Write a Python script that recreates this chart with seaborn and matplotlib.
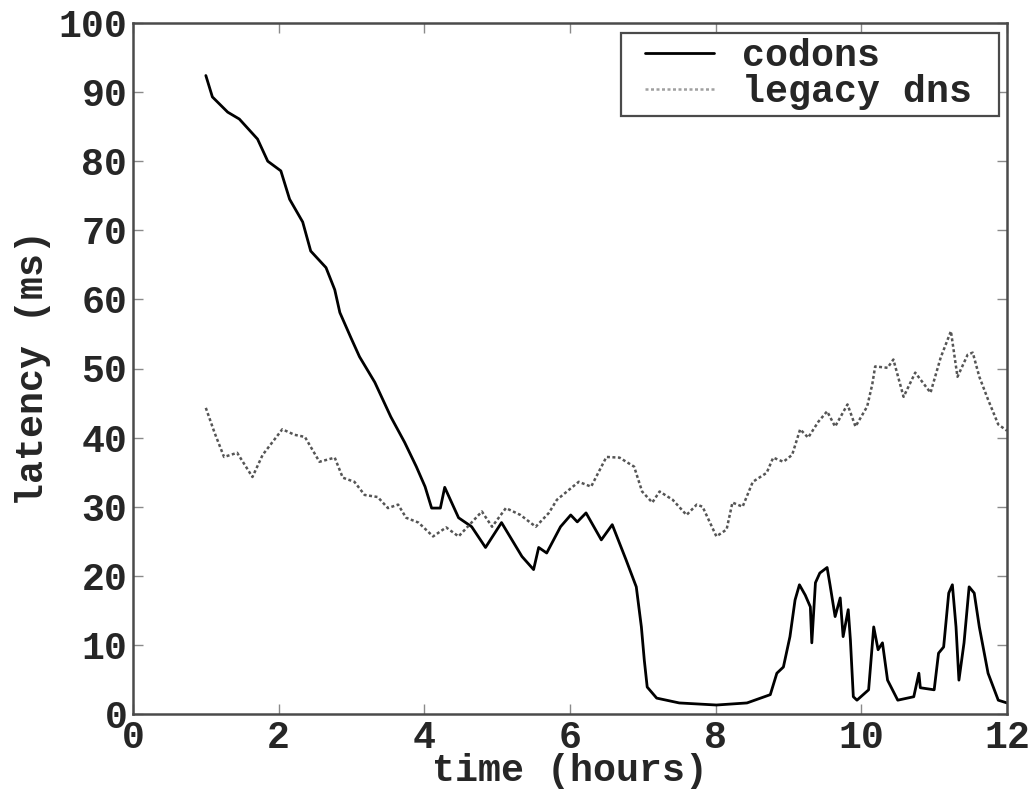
import matplotlib
matplotlib.use("Agg")
import matplotlib.pyplot as plt
from matplotlib.patches import Rectangle
import seaborn as sns
import pandas as pd

# --- data ---
codons_t = [1.0, 1.09, 1.3, 1.46, 1.71, 1.85, 2.03, 2.15, 2.33, 2.44,
            2.65, 2.77, 2.84, 2.99, 3.11, 3.32, 3.54, 3.73, 3.89, 4.01,
            4.1, 4.22, 4.28, 4.47, 4.65, 4.84, 5.06, 5.34, 5.5, 5.57,
            5.68, 5.87, 6.01, 6.1, 6.22, 6.43, 6.58, 6.77, 6.91, 6.98,
            7.02, 7.06, 7.19, 7.5, 8.01, 8.43, 8.75, 8.84, 8.93, 9.02,
            9.09, 9.15, 9.23, 9.3, 9.32, 9.37, 9.43, 9.53, 9.57, 9.64,
            9.71, 9.75, 9.82, 9.85, 9.89, 9.94, 10.1, 10.17, 10.23, 10.29,
            10.36, 10.5, 10.72, 10.79, 10.81, 11.0, 11.06, 11.13, 11.2, 11.25,
            11.3, 11.34, 11.41, 11.48, 11.55, 11.62, 11.74, 11.88, 12.0]
codons_ms = [92.4, 89.3, 87.1, 86.1, 83.2, 80, 78.6, 74.5, 71.2, 67,
             64.6, 61.4, 58.1, 54.5, 51.7, 48, 43, 39.3, 35.8, 32.9,
             29.8, 29.8, 32.8, 28.4, 27.1, 24.1, 27.7, 22.8, 20.9, 24.1,
             23.3, 27.1, 28.8, 27.8, 29.1, 25.2, 27.4, 22.3, 18.4, 12.6,
             7.8, 3.9, 2.3, 1.6, 1.3, 1.6, 2.8, 5.9, 6.8, 11.2,
             16.5, 18.7, 17.2, 15.5, 10.3, 19, 20.4, 21.2, 18.7, 14.1,
             16.8, 11.2, 15.1, 10.7, 2.5, 2, 3.5, 12.6, 9.3, 10.3,
             4.9, 2, 2.5, 5.9, 3.8, 3.5, 8.8, 9.7, 17.5, 18.7,
             12.6, 4.9, 10.3, 18.4, 17.5, 12.6, 5.9, 2, 1.6]

legacy_t = [1.0, 1.12, 1.25, 1.43, 1.64, 1.78, 2.05, 2.22, 2.36, 2.56,
            2.77, 2.88, 3.04, 3.18, 3.36, 3.5, 3.64, 3.75, 3.92, 4.12,
            4.3, 4.47, 4.79, 4.93, 5.12, 5.32, 5.53, 5.71, 5.82, 6.12,
            6.29, 6.5, 6.68, 6.88, 6.99, 7.13, 7.23, 7.41, 7.6, 7.74,
            7.82, 8.01, 8.15, 8.23, 8.37, 8.51, 8.7, 8.79, 8.93, 9.05,
            9.16, 9.27, 9.41, 9.53, 9.64, 9.81, 9.92, 10.08, 10.15, 10.19,
            10.36, 10.44, 10.58, 10.74, 10.95, 11.09, 11.23, 11.32, 11.46, 11.53,
            11.62, 11.74, 11.88, 12.0]
legacy_ms = [44.3, 40.7, 37.2, 37.8, 34.3, 37.5, 41.2, 40.4, 40.1, 36.5,
             37.1, 34.2, 33.6, 31.7, 31.4, 29.8, 30.3, 28.4, 27.7, 25.7,
             27, 25.7, 29.3, 27.1, 29.8, 28.8, 27.1, 29.1, 31, 33.6,
             32.9, 37.2, 37.1, 35.8, 32.2, 30.6, 32.2, 31, 28.8, 30.3,
             30, 25.7, 26.7, 30.6, 30, 33.6, 34.9, 37.1, 36.5, 37.5,
             41.2, 40, 42.3, 43.8, 41.6, 44.8, 41.6, 44.5, 47.7, 50.3,
             50.1, 51.3, 45.9, 49.4, 46.5, 51.6, 55.4, 48.8, 52, 52.3,
             48.8, 45.5, 41.9, 41]

series_names = ["codons", "legacy dns"]
x_ticks = [0, 2, 4, 6, 8, 10, 12]
y_ticks = [0, 10, 20, 30, 40, 50, 60, 70, 80, 90, 100]
x_label = "time (hours)"
y_label = "latency (ms)"

# --- styling ---
sns.set_theme(style="white")
plt.rcParams['font.family'] = ['Liberation Mono', 'DejaVu Sans Mono']
plt.rcParams['font.weight'] = 'bold'
FS = 27.5

df_c = pd.DataFrame({"time": codons_t, "latency": codons_ms})
df_l = pd.DataFrame({"time": legacy_t, "latency": legacy_ms})

fig = plt.figure(figsize=(10.3, 7.89), dpi=100)
ax = fig.add_axes([133 / 1030, 1 - 714 / 789, (1007 - 133) / 1030, (714 - 23) / 789])

sns.lineplot(data=df_c, x="time", y="latency", ax=ax, color="black",
             linewidth=2.0, estimator=None, label=series_names[0])
sns.lineplot(data=df_l, x="time", y="latency", ax=ax, color="#555555",
             linewidth=1.8, linestyle=(0, (1.2, 1.0)), estimator=None,
             label=series_names[1])

ax.set_xlim(0, 12)
ax.set_ylim(0, 100)
ax.set_xticks(x_ticks)
ax.set_yticks(y_ticks)
ax.set_xticklabels([str(v) for v in x_ticks], fontsize=FS, fontweight='bold')
ax.set_yticklabels([str(v) for v in y_ticks], fontsize=FS, fontweight='bold')
ax.tick_params(direction='in', length=7, width=1.0, color='#8a8a8a',
               top=True, right=True, bottom=True, left=True, pad=4)
ax.tick_params(axis='x', pad=4)
ax.set_xlabel(x_label, fontsize=FS, fontweight='bold', labelpad=-1.5)
ax.set_ylabel(y_label, fontsize=FS, fontweight='bold', labelpad=5)

for s in ax.spines.values():
    s.set_visible(True)
    s.set_color('#4a4a4a')
    s.set_linewidth(1.8)

# legend frame (square box)
rect = Rectangle((621 / 1030, 1 - 116 / 789), 378 / 1030, 83 / 789,
                 transform=fig.transFigure, facecolor='white',
                 edgecolor='#4a4a4a', linewidth=1.6, zorder=4.5, clip_on=False)
ax.add_artist(rect)

leg = ax.legend(loc='upper left', bbox_to_anchor=(645 / 1030, 1 - 38 / 789),
                bbox_transform=fig.transFigure, borderaxespad=0,
                frameon=False, prop={'weight': 'bold', 'size': FS},
                handlelength=1.8, handletextpad=0.75, labelspacing=0.0,
                borderpad=0)
leg.set_zorder(5)
leg.legend_handles[1].set_color('#a0a0a0')

fig.savefig("out.png", dpi=100)
